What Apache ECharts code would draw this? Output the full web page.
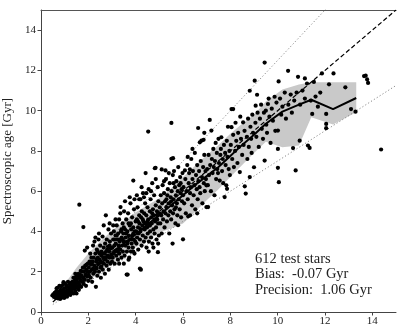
<!DOCTYPE html>
<html>
<head>
<meta charset="utf-8">
<script src="https://cdn.jsdelivr.net/npm/echarts@6/dist/echarts.min.js"></script>
<style>
html,body{margin:0;padding:0;background:#fff;}
#chart{width:397px;height:328px;}
</style>
</head>
<body>
<div id="chart"></div>
<script>
// ---- data ----
const xTicks = [0, 2, 4, 6, 8, 10, 12, 14];
const yTicks = [0, 2, 4, 6, 8, 10, 12, 14];
const annotation = ["612 test stars", "Bias:  -0.07 Gyr", "Precision:  1.06 Gyr"];
const yAxisName = "Spectroscopic age [Gyr]";

// binned running statistics
const binX   = [1.1, 1.5, 2.0, 2.5, 3.0, 3.5, 4.0, 4.5, 5.0, 5.5, 6.0, 6.5, 7.0, 7.5, 8.0, 8.5, 9.0, 9.5, 10.2, 10.9, 11.42, 12.34, 13.32];
const binMed = [1.0, 1.4, 1.9, 2.4, 2.9, 3.4, 3.85, 4.35, 4.8, 5.3, 5.8, 6.3, 6.75, 7.2, 7.75, 8.3, 8.8, 9.35, 9.95, 10.3, 10.54, 10.08, 10.63];
const binLo  = [0.8, 1.15, 1.55, 1.95, 2.4, 2.8, 3.2, 3.55, 3.95, 4.15, 4.4, 4.95, 5.55, 6.1, 6.7, 7.3, 7.9, 8.45, 8.18, 8.27, 9.67, 9.31, 9.92];
const binHi  = [1.55, 2.2, 2.9, 3.5, 4.05, 4.5, 4.95, 5.3, 5.65, 6.15, 6.7, 7.25, 7.8, 8.3, 8.85, 9.35, 9.8, 10.45, 11.05, 11.3, 11.41, 11.41, 11.41];

// reference lines (1:1 and +/-25 %)
const refX = [0.5, 15];
const oneToOne = [0.5, 15];
const upper25 = [0.625, 18.75];
const lower25 = [0.375, 11.25];

// stars: [asteroseismic age, spectroscopic age]
const stars = [
[0.48,0.82],[0.52,0.88],[0.55,0.75],[0.58,0.95],[0.6,0.85],[0.62,0.7],[0.64,1.02],[0.66,0.8],[0.68,0.92],[0.7,1.2],[0.71,0.68],[0.73,0.85],[0.75,1.0],[0.76,0.78],[0.78,1.3],[0.8,0.9],[0.81,0.65],[0.83,1.1],[0.85,0.82],[0.86,1.28],[0.88,0.95],[0.9,0.72],[0.91,1.05],[0.93,1.35],[0.95,0.88],[0.97,1.15],[0.98,0.7],[1.0,1.0],[1.01,1.42],[1.03,0.82],[1.05,1.2],[1.07,0.95],[1.09,1.3],[1.1,0.76],[1.12,1.08],[1.14,1.5],[1.16,0.9],[1.18,1.22],[1.2,1.02],[1.22,1.38],[1.24,0.85],[1.26,1.15],[1.28,1.45],[0.66,1.18],[0.95,1.48],
[1.3,1.0],[1.31,1.3],[1.33,1.5],[1.35,1.15],[1.37,1.7],[1.38,0.92],[1.4,1.4],[1.42,1.2],[1.44,1.6],[1.45,1.05],[1.47,1.5],[1.48,1.75],[1.5,0.92],[1.5,1.3],[1.52,1.6],[1.54,1.2],[1.55,1.8],[1.57,1.45],[1.58,1.9],[1.6,1.1],[1.62,1.7],[1.62,5.33],[1.63,1.35],[1.65,1.85],[1.67,1.55],[1.68,2.05],[1.7,1.25],[1.72,1.8],[1.73,2.0],[1.75,1.5],[1.77,2.2],[1.78,1.7],[1.79,4.22],[1.8,1.4],[1.82,2.0],[1.83,2.2],[1.85,1.6],[1.87,2.3],[1.88,1.85],[1.9,1.3],[1.92,2.1],[1.93,2.35],[1.95,1.75],[1.97,2.0],[1.98,2.4],[2.0,1.55],[1.45,1.9],[1.6,1.25],[1.85,3.05],[1.95,3.2],
[2.02,2.2],[2.03,1.8],[2.05,2.5],[2.06,2.0],[2.08,2.9],[2.1,1.7],[2.11,2.35],[2.13,2.7],[2.15,2.1],[2.16,1.5],[2.18,2.5],[2.2,3.3],[2.21,1.9],[2.23,2.7],[2.25,2.3],[2.26,3.5],[2.28,2.0],[2.3,2.9],[2.32,1.25],[2.33,2.5],[2.35,2.15],[2.36,3.1],[2.38,1.8],[2.4,2.7],[2.42,2.4],[2.43,3.6],[2.45,2.0],[2.47,2.9],[2.48,2.6],[2.5,3.3],[2.51,2.2],[2.53,1.7],[2.55,2.8],[2.56,3.0],[2.58,2.45],[2.6,3.75],[2.61,2.1],[2.63,2.7],[2.65,3.2],[2.66,2.4],[2.68,2.9],[2.7,1.9],[2.71,3.4],[2.73,2.6],[2.74,4.8],[2.75,3.0],[2.77,2.3],[2.78,3.6],[2.8,2.8],[2.82,2.5],[2.83,3.25],[2.85,4.1],[2.86,2.1],[2.88,3.0],[2.9,2.7],[2.91,3.5],[2.93,2.4],[2.95,3.15],[2.96,3.9],[2.98,2.85],[3.0,2.5],[2.2,2.15],[2.4,3.0],[2.5,2.5],[2.6,2.9],[2.7,2.7],[2.8,3.1],[2.9,3.3],[2.35,2.6],[2.55,2.25],[2.15,2.4],[2.45,3.9],[2.65,4.3],[2.9,4.4],[2.3,3.7],
[3.02,3.2],[3.03,2.7],[3.05,3.6],[3.06,2.9],[3.08,4.0],[3.1,3.3],[3.11,2.4],[3.13,3.0],[3.15,3.8],[3.16,3.4],[3.18,2.8],[3.2,4.3],[3.21,3.1],[3.23,3.6],[3.25,2.6],[3.26,3.9],[3.28,3.3],[3.3,4.6],[3.31,2.9],[3.33,3.5],[3.35,3.1],[3.36,5.21],[3.38,4.0],[3.4,2.7],[3.41,3.7],[3.43,3.3],[3.45,4.4],[3.46,3.0],[3.48,3.9],[3.5,3.5],[3.51,5.0],[3.53,2.8],[3.55,4.1],[3.56,3.3],[3.58,3.7],[3.6,4.6],[3.62,1.86],[3.63,3.0],[3.65,4.0],[3.66,1.86],[3.67,3.5],[3.68,4.9],[3.7,3.2],[3.71,3.8],[3.73,2.7],[3.75,4.3],[3.76,3.6],[3.78,5.4],[3.8,3.0],[3.81,4.1],[3.83,3.4],[3.85,4.7],[3.86,3.8],[3.88,3.2],[3.9,6.53],[3.9,4.2],[3.92,3.6],[3.93,5.1],[3.95,2.9],[3.96,4.0],[3.98,3.5],[4.0,4.5],[3.1,3.6],[3.2,3.8],[3.3,3.6],[3.4,4.1],[3.5,4.2],[3.6,3.9],[3.7,4.4],[3.8,4.4],[3.9,3.9],[3.25,3.0],[3.45,3.6],[3.65,3.4],[3.85,3.6],[3.15,4.6],[3.55,5.5],[3.75,5.7],[3.35,4.9],[3.05,4.3],[3.95,5.6],[3.5,2.4],[3.9,3.0],[3.7,2.6],[3.3,2.4],
[4.02,4.0],[4.03,3.4],[4.05,4.6],[4.06,3.7],[4.08,5.2],[4.1,4.2],[4.11,3.1],[4.13,3.9],[4.15,4.8],[4.16,4.4],[4.18,2.16],[4.18,3.6],[4.2,5.6],[4.22,2.1],[4.22,4.1],[4.23,4.7],[4.25,3.3],[4.26,5.0],[4.28,4.3],[4.3,3.8],[4.31,5.9],[4.33,4.5],[4.35,3.5],[4.36,4.9],[4.38,4.1],[4.4,5.4],[4.42,6.9],[4.42,3.7],[4.43,4.4],[4.45,4.8],[4.46,3.2],[4.48,4.2],[4.5,5.2],[4.51,3.9],[4.53,8.96],[4.53,4.6],[4.55,6.1],[4.56,3.5],[4.58,4.3],[4.6,5.0],[4.61,4.0],[4.63,5.6],[4.65,3.7],[4.66,4.7],[4.68,4.4],[4.7,6.4],[4.71,3.4],[4.73,5.1],[4.75,4.1],[4.76,4.8],[4.78,5.8],[4.8,3.9],[4.81,7.14],[4.82,4.5],[4.84,7.16],[4.85,5.3],[4.86,4.2],[4.88,3.6],[4.9,5.0],[4.91,4.6],[4.93,6.2],[4.94,2.97],[4.95,4.4],[4.96,5.5],[4.98,3.8],[5.0,4.9],[4.1,4.5],[4.2,4.0],[4.3,4.6],[4.4,4.4],[4.5,4.5],[4.6,4.3],[4.7,4.9],[4.8,4.6],[4.9,4.8],[4.15,5.6],[4.35,5.7],[4.65,6.0],[4.25,6.2],[4.45,5.9],[4.05,5.8],[4.75,3.2],[4.95,3.4],[4.55,3.0],[4.85,6.6],
[5.02,5.2],[5.04,4.4],[5.06,5.8],[5.08,4.8],[5.1,3.9],[5.1,7.08],[5.12,5.4],[5.14,6.3],[5.16,4.6],[5.18,5.0],[5.2,5.9],[5.22,4.2],[5.24,5.5],[5.26,7.03],[5.26,4.9],[5.28,6.6],[5.3,5.2],[5.32,4.5],[5.34,5.8],[5.36,6.1],[5.38,4.8],[5.4,5.4],[5.42,3.9],[5.44,6.4],[5.46,5.0],[5.48,5.7],[5.5,4.6],[5.51,9.39],[5.51,7.61],[5.52,6.0],[5.54,5.3],[5.56,3.4],[5.57,6.8],[5.58,7.64],[5.58,4.9],[5.6,5.6],[5.62,7.0],[5.64,5.1],[5.66,6.2],[5.68,4.4],[5.7,5.8],[5.72,6.5],[5.74,5.4],[5.76,4.8],[5.78,6.0],[5.79,4.31],[5.8,7.2],[5.82,5.6],[5.84,6.3],[5.86,5.1],[5.88,6.7],[5.9,5.9],[5.92,4.7],[5.94,6.1],[5.96,5.5],[5.98,6.9],[6.0,3.61],[6.0,5.8],[5.3,5.6],[5.5,5.5],[5.7,5.2],[5.9,6.4],[5.4,6.9],[5.2,6.5],[5.6,6.4],
[6.02,6.2],[6.05,5.4],[6.08,7.03],[6.1,6.6],[6.12,4.9],[6.15,6.0],[6.18,7.3],[6.2,5.6],[6.22,4.75],[6.24,6.4],[6.26,6.9],[6.29,7.09],[6.3,5.9],[6.33,6.2],[6.35,7.6],[6.38,5.3],[6.4,6.6],[6.42,7.0],[6.45,5.8],[6.48,6.3],[6.5,7.9],[6.52,5.1],[6.55,6.8],[6.58,6.1],[6.6,7.3],[6.62,5.6],[6.64,9.14],[6.65,6.5],[6.68,7.0],[6.7,6.2],[6.71,8.43],[6.73,5.9],[6.75,7.5],[6.78,8.51],[6.8,6.7],[6.82,5.4],[6.85,7.2],[6.87,8.55],[6.88,6.4],[6.9,7.8],[6.92,6.0],[6.95,7.0],[6.97,6.6],[6.99,5.21],[6.99,6.29],[6.4,8.1],[6.2,7.7],[6.6,4.9],[6.3,4.8],[6.9,8.9],
[7.02,7.1],[7.05,6.3],[7.06,5.21],[7.08,7.8],[7.1,6.8],[7.13,9.54],[7.15,7.3],[7.18,6.0],[7.2,9.01],[7.22,7.6],[7.25,6.9],[7.28,8.1],[7.3,7.2],[7.33,5.8],[7.35,7.5],[7.38,8.4],[7.4,6.6],[7.43,7.9],[7.45,7.1],[7.48,6.9],[7.5,8.6],[7.52,7.4],[7.55,6.53],[7.58,7.8],[7.6,8.1],[7.62,8.68],[7.65,7.0],[7.68,7.6],[7.7,6.4],[7.73,8.3],[7.76,5.71],[7.78,7.9],[7.8,7.3],[7.83,6.29],[7.85,8.5],[7.86,6.12],[7.88,7.7],[7.9,9.2],[7.93,7.1],[7.96,8.0],[7.98,6.8],
[8.02,8.3],[8.05,10.08],[8.05,9.18],[8.08,7.6],[8.12,10.08],[8.12,8.8],[8.15,7.2],[8.2,8.0],[8.22,9.4],[8.25,8.5],[8.3,7.4],[8.33,8.9],[8.36,8.2],[8.4,6.95],[8.42,9.7],[8.45,8.6],[8.5,7.8],[8.54,9.42],[8.56,8.3],[8.6,9.0],[8.61,6.24],[8.65,5.88],[8.7,8.7],[8.72,7.6],[8.75,9.6],[8.78,8.2],[8.82,10.99],[8.82,6.7],[8.85,9.2],[8.88,8.6],[8.9,7.9],[8.93,9.8],[8.96,8.9],[9.0,7.19],
[9.03,11.49],[9.06,9.4],[9.07,10.25],[9.1,8.7],[9.13,10.79],[9.15,9.9],[9.2,8.2],[9.25,9.6],[9.3,10.3],[9.33,9.1],[9.38,8.6],[9.42,9.9],[9.45,12.39],[9.45,7.52],[9.5,10.0],[9.52,9.3],[9.55,8.9],[9.59,10.33],[9.62,10.6],[9.65,9.7],[9.7,8.4],[9.75,10.1],[9.8,9.5],[9.87,10.69],[9.9,9.0],[9.95,10.4],[10.01,9.01],[10.01,8.1],
[10.04,11.45],[10.01,7.16],[10.05,6.45],[10.1,10.6],[10.15,9.8],[10.2,10.2],[10.3,10.9],[10.35,9.6],[10.44,11.98],[10.45,10.3],[10.55,10.8],[10.65,8.14],[10.6,9.9],[10.7,10.5],[10.76,7.03],[10.8,10.9],[10.86,11.68],[10.93,8.51],[10.95,10.3],
[11.05,11.0],[11.15,10.6],[11.24,11.35],[11.28,8.27],[11.35,8.15],[11.4,10.5],[11.46,9.84],[11.53,11.43],[11.6,10.7],[11.7,10.2],[11.87,11.85],[12.05,9.84],[12.05,9.34],[12.05,9.13],[12.17,11.31],[12.36,11.85],[12.86,11.16],[13.1,10.08],[13.29,9.95],[11.15,11.6],[11.8,10.9],
[13.65,11.72],[13.72,11.74],[13.78,11.55],[13.82,11.38],[14.37,8.07]
];

// ---- chart ----
const chart = echarts.init(document.getElementById('chart'), null, {renderer: 'canvas'});
const serif = "'Liberation Serif', 'DejaVu Serif', serif";
const txt = '#222';

const bandPolygon = [];
for (let i = 0; i < binX.length; i++) bandPolygon.push([binX[i], binHi[i]]);
for (let i = binX.length - 1; i >= 0; i--) bandPolygon.push([binX[i], binLo[i]]);

function pairs(xs, ys) { return xs.map((x, i) => [x, ys[i]]); }

const option = {
  animation: false,
  backgroundColor: '#fff',
  grid: {left: 41, right: 1, top: 10, bottom: 16, containLabel: false, outerBoundsMode: 'none'},
  xAxis: [{
    type: 'value', min: 0, max: 15, interval: 2,
    axisLine: {show: true, onZero: false, lineStyle: {color: '#444', width: 1}},
    axisTick: {show: true, length: 3.5, lineStyle: {color: '#444'}},
    axisLabel: {show: true, showMaxLabel: false, color: txt, fontFamily: serif, fontSize: 11, margin: 4,
      formatter: v => xTicks.indexOf(v) >= 0 ? String(v) : ''},
    splitLine: {show: false}
  }, {
    type: 'value', min: 0, max: 15, position: 'top',
    axisLine: {show: true, onZero: false, lineStyle: {color: '#555', width: 1}},
    axisTick: {show: false}, axisLabel: {show: false}, splitLine: {show: false}
  }],
  yAxis: {
    type: 'value', min: 0, max: 15, interval: 2,
    name: yAxisName, nameLocation: 'middle', nameGap: 19,
    nameTextStyle: {color: txt, fontFamily: serif, fontSize: 13},
    axisLine: {show: true, onZero: false, lineStyle: {color: '#444', width: 1}},
    axisTick: {show: true, length: 3.5, lineStyle: {color: '#444'}},
    axisLabel: {show: true, showMaxLabel: false, color: txt, fontFamily: serif, fontSize: 11, margin: 5,
      formatter: v => yTicks.indexOf(v) >= 0 ? String(v) : ''},
    splitLine: {show: false}
  },
  series: [
    {
      type: 'custom', z: 1, silent: true,
      data: [0],
      renderItem: function (params, api) {
        const pts = bandPolygon.map(p => api.coord(p));
        return {type: 'polygon', shape: {points: pts}, style: {fill: '#c9c9c9', stroke: 'none'}};
      }
    },
    {type: 'line', z: 2, data: pairs(refX, upper25), symbol: 'none', silent: true,
      lineStyle: {color: '#8a8a8a', width: 1, type: [1.2, 2.2]}},
    {type: 'line', z: 2, data: pairs(refX, lower25), symbol: 'none', silent: true,
      lineStyle: {color: '#8a8a8a', width: 1, type: [1.2, 2.2]}},
    {type: 'scatter', z: 3, data: stars, symbol: 'circle', symbolSize: 4.2, silent: true,
      itemStyle: {color: '#000', opacity: 1}},
    {type: 'line', z: 4, data: pairs(binX, binMed), symbol: 'none', silent: true,
      lineStyle: {color: '#000', width: 2}},
    {type: 'line', z: 5, data: pairs(refX, oneToOne), symbol: 'none', silent: true,
      lineStyle: {color: '#000', width: 1.2, type: [4.5, 2.5]}}
  ],
  graphic: [{
    type: 'text', left: 255, top: 251, z: 10,
    style: {text: annotation.join('\n'), fill: '#222', font: "14.5px 'Liberation Serif', serif", lineHeight: 15.7}
  }]
};
chart.setOption(option);
</script>
</body>
</html>
